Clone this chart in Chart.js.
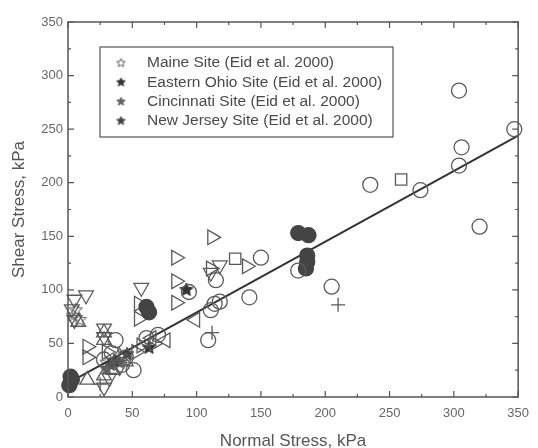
<!DOCTYPE html>
<html>
<head>
<meta charset="utf-8">
<script src="https://cdn.jsdelivr.net/npm/chart.js@4/dist/chart.umd.min.js"></script>
<style>
  html, body { margin: 0; background: #fff; }
</style>
</head>
<body>
<canvas id="chartCanvas" width="538" height="448"></canvas>
<script>
// tick values
const xTicks = [0, 50, 100, 150, 200, 250, 300, 350];
const yTicks = [0, 50, 100, 150, 200, 250, 300, 350];
const minorTicks = [25, 75, 125, 175, 225, 275, 325];

// data [normal stress, shear stress]
const openCircles = [[304,286],[347,250],[306,233],[304,216],[235,198],[274,193],[320,159],[205,103],[179,118],
  [150,130],[115,109],[94,98],[114,87],[118,89],[111,81],[141,93],[109,53],[70,58],[61,55],[51,25],
  [37,53],[34,41],[45,37],[42,30],[28,35]];
const filledCircles = [[179,153],[187,151],[186,132],[186,126],[185,120],[61,84],[63,79],[3,16],[1,11],[2,19]];
const openSquares = [[259,203],[130,129]];
const triRight = [[112,149],[84,130],[84,108],[111,120],[139,122],[84,88],[55,87],[55,73],[15,47],[15,37],
  [57,48],[67,50],[53,42],[30,42]];
const triDown = [[57,102],[118,123],[14,95],[5,91],[3,82],[5,72],[28,64],[28,56],[111,116],[28,9],[32,18],[40,28]];
const triUp = [[28,60],[28,53],[15,16],[28,20],[35,25],[40,38],[45,33],[8,70]];
const triLeft = [[99,72],[76,53],[65,55]];
const crosses = [[112,60],[210,86],[25,12]];
const maineStars = [[4,76],[6,81],[9,72],[30,32]];
const ohioStars = [[92,100],[63,46],[36,34]];
const cincyStars = [[40,32],[30,26]];
const jerseyStars = [[33,30],[46,40]];
const fitLine = [[0,13],[350,244]];

const toPts = a => a.map(p => ({ x: p[0], y: p[1] }));

function makeStar(r, fill, stroke) {
  const c = document.createElement("canvas");
  const s = Math.ceil(2 * r + 4);
  c.width = s; c.height = s;
  const g = c.getContext("2d");
  g.beginPath();
  for (let i = 0; i < 10; i++) {
    const rr = i % 2 === 0 ? r : r * 0.45;
    const a = -Math.PI / 2 + i * Math.PI / 5;
    const px = s / 2 + rr * Math.cos(a), py = s / 2 + rr * Math.sin(a);
    if (i === 0) g.moveTo(px, py); else g.lineTo(px, py);
  }
  g.closePath();
  if (fill) { g.fillStyle = fill; g.fill(); }
  g.strokeStyle = stroke; g.lineWidth = 1; g.stroke();
  return c;
}

const grey = "#5a5a5a";
function markers(label, data, style, rot, extra) {
  return Object.assign({
    type: "scatter", label: label, data: toPts(data),
    pointStyle: style, rotation: rot || 0, pointRadius: 7.5,
    borderColor: grey, backgroundColor: "rgba(0,0,0,0)", borderWidth: 1.3,
    clip: false
  }, extra || {});
}

const starSets = [
  ["Maine Site (Eid et al. 2000)", maineStars, makeStar(7, null, "#555")],
  ["Eastern Ohio Site (Eid et al. 2000)", ohioStars, makeStar(7, "#333", "#333")],
  ["Cincinnati Site (Eid et al. 2000)", cincyStars, makeStar(7, "#666", "#666")],
  ["New Jersey Site (Eid et al. 2000)", jerseyStars, makeStar(7, "#444", "#444")]
];
const legendStars = [makeStar(4.5, null, "#555"), makeStar(4.5, "#333", "#333"),
  makeStar(4.5, "#666", "#666"), makeStar(4.5, "#444", "#444")];

const datasets = [
  markers("circles", openCircles, "circle"),
  markers("filled", filledCircles, "circle", 0, { backgroundColor: "#444", borderColor: "#444" }),
  markers("squares", openSquares, "rect", 0, { pointRadius: 8 }),
  markers("right", triRight, "triangle", 90, { pointRadius: 8.5 }),
  markers("down", triDown, "triangle", 180, { pointRadius: 8.5 }),
  markers("up", triUp, "triangle", 0, { pointRadius: 8.5 }),
  markers("left", triLeft, "triangle", 270, { pointRadius: 8.5 }),
  markers("cross", crosses, "cross", 0, { pointRadius: 7 }),
  {
    type: "line", label: "fit", data: toPts(fitLine), borderColor: "#333",
    borderWidth: 2, pointRadius: 0, fill: false
  }
];
starSets.forEach(s => datasets.push(markers(s[0], s[1], s[2])));

// frame, inward ticks and legend box
const framePlugin = {
  id: "frame",
  afterDraw(chart) {
    const ctx = chart.ctx, a = chart.chartArea;
    const xs = chart.scales.x, ys = chart.scales.y;
    ctx.save();
    ctx.strokeStyle = "#555";
    ctx.lineWidth = 1.5;
    ctx.strokeRect(a.left, a.top, a.right - a.left, a.bottom - a.top);
    ctx.lineWidth = 1.2;
    const tick = (vals, len) => {
      vals.forEach(v => {
        const px = xs.getPixelForValue(v), py = ys.getPixelForValue(v);
        ctx.beginPath();
        ctx.moveTo(px, a.bottom); ctx.lineTo(px, a.bottom - len);
        ctx.moveTo(px, a.top); ctx.lineTo(px, a.top + len);
        ctx.moveTo(a.left, py); ctx.lineTo(a.left + len, py);
        ctx.moveTo(a.right, py); ctx.lineTo(a.right - len, py);
        ctx.stroke();
      });
    };
    tick(xTicks, 6);
    tick(minorTicks, 3);

    // legend
    const lx = a.left + 32, ly = a.top + 25, lw = 293, lh = 90;
    ctx.fillStyle = "#fff";
    ctx.fillRect(lx, ly, lw, lh);
    ctx.lineWidth = 1.2;
    ctx.strokeRect(lx, ly, lw, lh);
    ctx.font = "15.5px 'Liberation Sans', Arial, sans-serif";
    ctx.fillStyle = "#4a4a4a";
    ctx.textBaseline = "middle";
    starSets.forEach((s, i) => {
      const rowY = ly + 16 + i * 19.3;
      const img = legendStars[i];
      ctx.drawImage(img, lx + 21 - img.width / 2, rowY - img.height / 2);
      ctx.fillText(s[0], lx + 47, rowY);
    });
    ctx.restore();
  }
};

const axisFont = { family: "'Liberation Sans', Arial, sans-serif", size: 13 };
const titleFont = { family: "'Liberation Sans', Arial, sans-serif", size: 17 };

new Chart(document.getElementById("chartCanvas"), {
  data: { datasets: datasets },
  options: {
    responsive: false,
    animation: false,
    layout: { padding: { top: 22, right: 13, left: 0, bottom: 0 } },
    plugins: { legend: { display: false }, tooltip: { enabled: false } },
    scales: {
      x: {
        type: "linear", min: 0, max: 350,
        afterBuildTicks: s => { s.ticks = xTicks.map(v => ({ value: v })); },
        afterFit: s => { s.height = 51; },
        grid: { display: false, drawTicks: false },
        border: { display: false },
        ticks: { color: "#666", font: axisFont, padding: 9 },
        title: { display: true, text: "Normal Stress, kPa", color: "#555", font: titleFont, padding: { top: 0, bottom: -4 } }
      },
      y: {
        type: "linear", min: 0, max: 350,
        afterBuildTicks: s => { s.ticks = yTicks.map(v => ({ value: v })); },
        afterFit: s => { s.width = 68; },
        grid: { display: false, drawTicks: false },
        border: { display: false },
        ticks: { color: "#666", font: axisFont, padding: 5 },
        title: { display: true, text: "Shear Stress, kPa", color: "#555", font: titleFont, padding: { top: 9, bottom: 0 } }
      }
    }
  },
  plugins: [framePlugin]
});
</script>
</body>
</html>
